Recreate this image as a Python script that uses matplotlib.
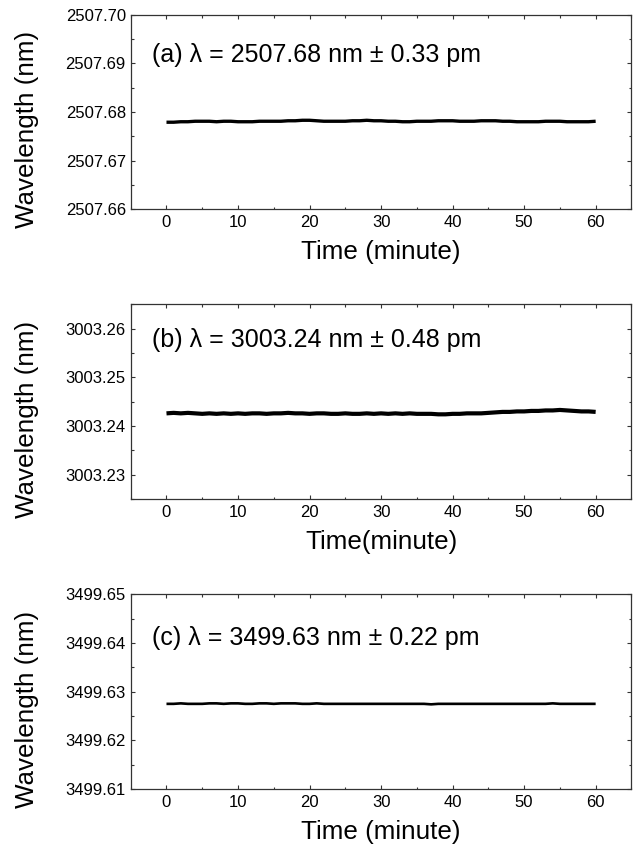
import numpy as np
import matplotlib
matplotlib.use("Agg")
import matplotlib.pyplot as plt
from matplotlib.ticker import MultipleLocator, FormatStrFormatter

plt.rcParams["font.family"] = ["Liberation Sans", "DejaVu Sans"]

# time axis, one reading per minute
time_min = list(range(61))

# (a) 2507.68 nm
wl_a = [2507.6779, 2507.6779, 2507.6780, 2507.6780, 2507.6781, 2507.6781, 2507.6781, 2507.6780,
        2507.6781, 2507.6781, 2507.6780, 2507.6780, 2507.6780, 2507.6781, 2507.6781, 2507.6781,
        2507.6781, 2507.6782, 2507.6782, 2507.6783, 2507.6783, 2507.6782, 2507.6781, 2507.6781,
        2507.6781, 2507.6781, 2507.6782, 2507.6782, 2507.6783, 2507.6782, 2507.6782, 2507.6781,
        2507.6781, 2507.6780, 2507.6780, 2507.6781, 2507.6781, 2507.6781, 2507.6782, 2507.6782,
        2507.6782, 2507.6781, 2507.6781, 2507.6781, 2507.6782, 2507.6782, 2507.6782, 2507.6781,
        2507.6781, 2507.6780, 2507.6780, 2507.6780, 2507.6780, 2507.6781, 2507.6781, 2507.6781,
        2507.6780, 2507.6780, 2507.6780, 2507.6780, 2507.6781]

# (b) 3003.24 nm
wl_b = [3003.2426, 3003.2427, 3003.2426, 3003.2427, 3003.2426, 3003.2425, 3003.2426, 3003.2425,
        3003.2426, 3003.2425, 3003.2426, 3003.2425, 3003.2426, 3003.2426, 3003.2425, 3003.2426,
        3003.2426, 3003.2427, 3003.2426, 3003.2426, 3003.2425, 3003.2426, 3003.2426, 3003.2425,
        3003.2425, 3003.2426, 3003.2425, 3003.2425, 3003.2426, 3003.2425, 3003.2426, 3003.2425,
        3003.2426, 3003.2425, 3003.2426, 3003.2425, 3003.2425, 3003.2425, 3003.2424, 3003.2424,
        3003.2425, 3003.2425, 3003.2426, 3003.2426, 3003.2426, 3003.2427, 3003.2428, 3003.2429,
        3003.2429, 3003.2430, 3003.2430, 3003.2431, 3003.2431, 3003.2432, 3003.2432, 3003.2433,
        3003.2432, 3003.2431, 3003.2430, 3003.2430, 3003.2429]

# (c) 3499.63 nm
wl_c = [3499.6275, 3499.6275, 3499.6276, 3499.6275, 3499.6275, 3499.6275, 3499.6276, 3499.6276,
        3499.6275, 3499.6276, 3499.6276, 3499.6275, 3499.6275, 3499.6276, 3499.6276, 3499.6275,
        3499.6276, 3499.6276, 3499.6276, 3499.6275, 3499.6275, 3499.6276, 3499.6275, 3499.6275,
        3499.6275, 3499.6275, 3499.6275, 3499.6275, 3499.6275, 3499.6275, 3499.6275, 3499.6275,
        3499.6275, 3499.6275, 3499.6275, 3499.6275, 3499.6275, 3499.6274, 3499.6275, 3499.6275,
        3499.6275, 3499.6275, 3499.6275, 3499.6275, 3499.6275, 3499.6275, 3499.6275, 3499.6275,
        3499.6275, 3499.6275, 3499.6275, 3499.6275, 3499.6275, 3499.6275, 3499.6276, 3499.6275,
        3499.6275, 3499.6275, 3499.6275, 3499.6275, 3499.6275]

labels = ["(a) λ = 2507.68 nm ± 0.33 pm",
          "(b) λ = 3003.24 nm ± 0.48 pm",
          "(c) λ = 3499.63 nm ± 0.22 pm"]
xlabels = ["Time (minute)", "Time(minute)", "Time (minute)"]
ylims = [(2507.66, 2507.70), (3003.225, 3003.265), (3499.61, 3499.65)]
series = [wl_a, wl_b, wl_c]

fig = plt.figure(figsize=(6.33, 8.46), dpi=100)
bottoms = [0.7526, 0.4102, 0.0674]
text_y = [0.795, 0.815, 0.775]
widths = [2.4, 3.0, 1.9]

for i in range(3):
    ax = fig.add_axes([0.2065, bottoms[i], 0.791, 0.230])
    ax.plot(time_min, series[i], color="black", lw=widths[i], solid_capstyle="butt")
    ax.set_xlim(-5, 65)
    ax.set_ylim(*ylims[i])
    ax.xaxis.set_major_locator(MultipleLocator(10))
    ax.xaxis.set_minor_locator(MultipleLocator(5))
    ax.yaxis.set_major_locator(MultipleLocator(0.01))
    ax.yaxis.set_minor_locator(MultipleLocator(0.005))
    ax.yaxis.set_major_formatter(FormatStrFormatter("%.2f"))
    ax.tick_params(which="both", direction="in", top=True, right=True, labelsize=12,
                   color="#333333", width=0.8)
    ax.tick_params(axis="x", pad=4)
    ax.tick_params(axis="y", pad=3.5)
    ax.tick_params(which="major", length=3.2)
    ax.tick_params(which="minor", length=1.8)
    ax.set_xlabel(xlabels[i], fontsize=18.7)
    ax.xaxis.set_label_coords(0.5, -0.22)
    ax.xaxis.label.set_va("center")
    ax.set_ylabel("Wavelength (nm)", fontsize=18.7)
    ax.yaxis.set_label_coords(-0.207, 0.41)
    ax.yaxis.label.set_va("center")
    ax.text(0.0425, text_y[i], labels[i], transform=ax.transAxes, fontsize=18, va="center", ha="left")
    for s in ax.spines.values():
        s.set_linewidth(0.9)
        s.set_color("#333333")

fig.savefig("out.png", dpi=100)
